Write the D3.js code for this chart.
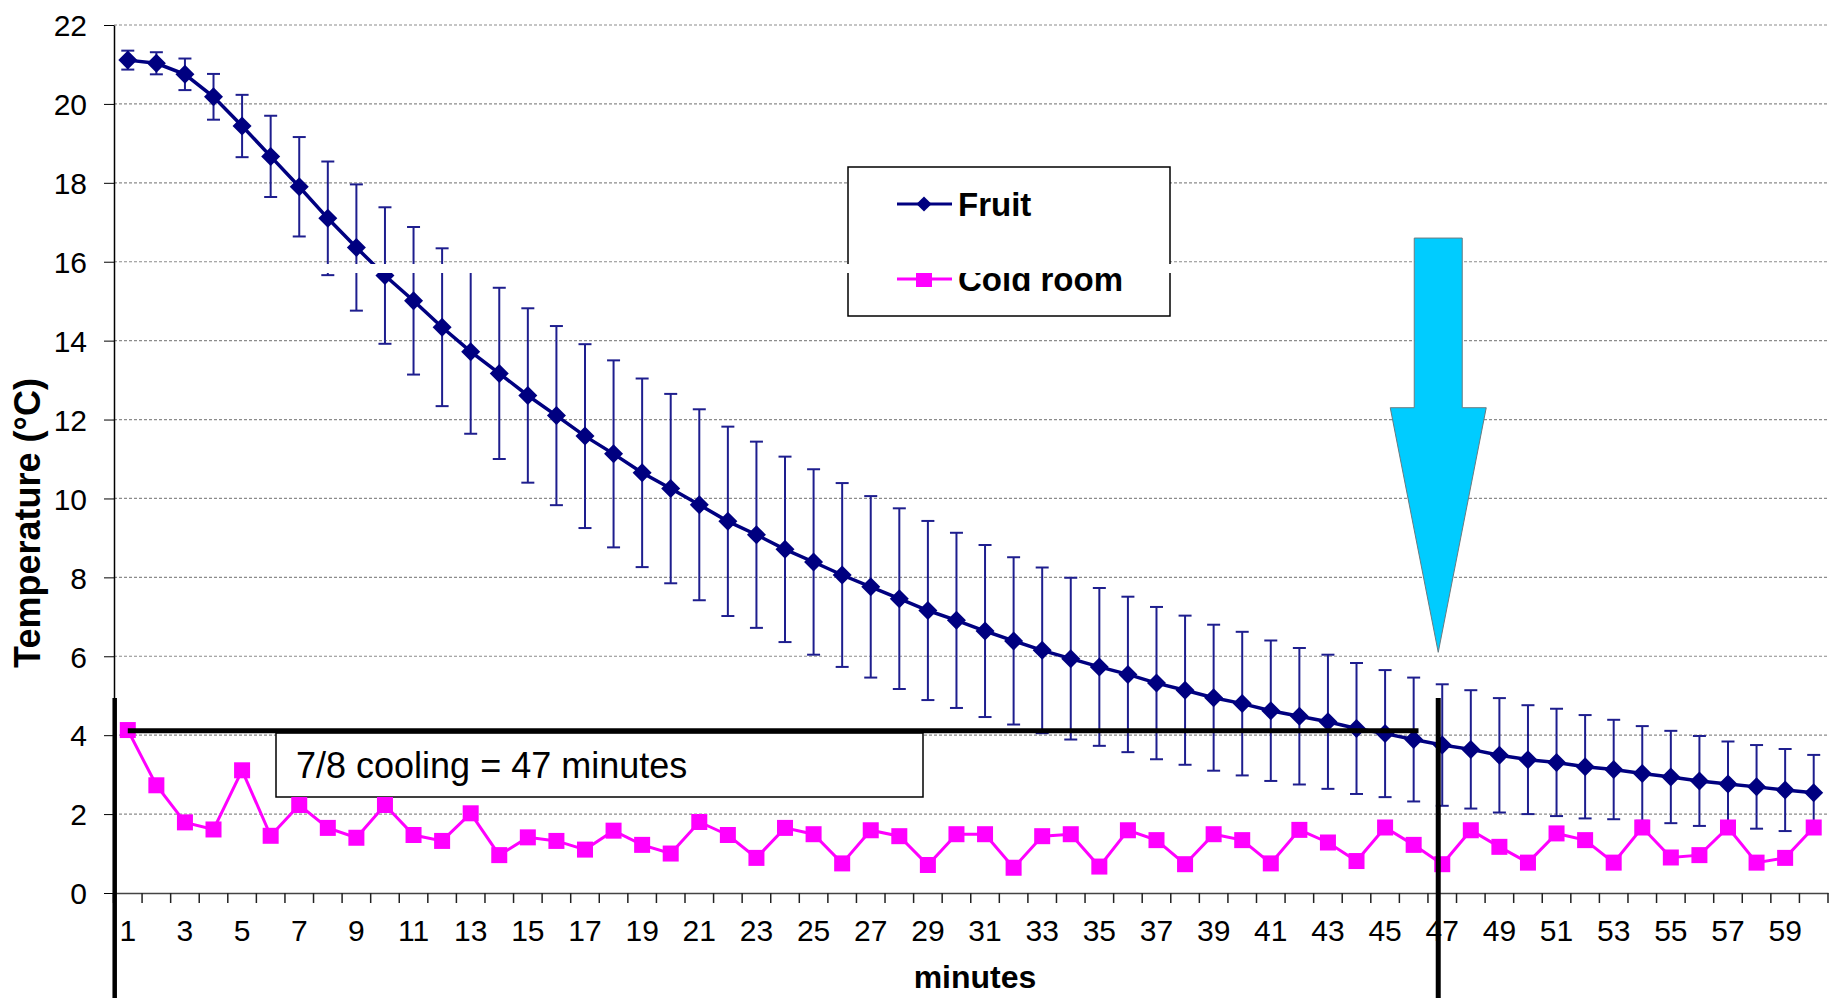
<!DOCTYPE html>
<html>
<head>
<meta charset="utf-8">
<script src="https://cdn.jsdelivr.net/npm/d3@7"></script>
<style>
body { margin: 0; background: #fff; }
text { font-family: "Liberation Sans", Arial, sans-serif; fill: #000; }
</style>
</head>
<body>
<script>
// minutes on the x axis
var minutes = [1,2,3,4,5,6,7,8,9,10,11,12,13,14,15,16,17,18,19,20,
  21,22,23,24,25,26,27,28,29,30,31,32,33,34,35,36,37,38,39,40,
  41,42,43,44,45,46,47,48,49,50,51,52,53,54,55,56,57,58,59,60];

// fruit core temperature (mean) and its error bar half-length
var fruitMean = [21.11,21.03,20.75,20.18,19.44,18.67,17.9,17.1,16.36,15.65,
  15.01,14.34,13.72,13.17,12.61,12.1,11.58,11.13,10.65,10.25,
  9.84,9.42,9.08,8.71,8.39,8.06,7.76,7.46,7.16,6.91,
  6.64,6.39,6.15,5.94,5.73,5.54,5.32,5.14,4.95,4.8,
  4.62,4.48,4.34,4.17,4.04,3.89,3.75,3.64,3.49,3.38,
  3.31,3.2,3.13,3.03,2.94,2.84,2.76,2.69,2.61,2.54];
var fruitErr = [0.24,0.28,0.4,0.58,0.79,1.03,1.26,1.44,1.6,1.73,
  1.87,2.0,2.08,2.17,2.21,2.27,2.33,2.37,2.39,2.4,
  2.42,2.4,2.36,2.35,2.35,2.33,2.3,2.29,2.27,2.22,
  2.18,2.12,2.1,2.05,2.0,1.97,1.93,1.89,1.85,1.82,
  1.78,1.73,1.7,1.66,1.61,1.57,1.54,1.5,1.45,1.38,
  1.36,1.31,1.26,1.2,1.17,1.14,1.08,1.06,1.04,0.96];

// cold room air temperature
var coldRoom = [4.13,2.73,1.79,1.61,3.11,1.45,2.23,1.65,1.4,2.23,
  1.47,1.32,2.02,0.96,1.41,1.32,1.1,1.58,1.22,1.0,
  1.8,1.47,0.89,1.65,1.49,0.75,1.59,1.44,0.71,1.49,
  1.49,0.64,1.44,1.49,0.67,1.59,1.34,0.73,1.49,1.34,
  0.75,1.6,1.28,0.81,1.66,1.22,0.73,1.59,1.17,0.77,
  1.51,1.34,0.77,1.66,0.9,0.96,1.66,0.77,0.89,1.66];

var yTicks = [0,2,4,6,8,10,12,14,16,18,20,22];

// 7/8 cooling marker
var coolMinute = 47;
var coolTemp = 4.11;
var noteText = "7/8 cooling = 47 minutes";

var W = 1843, H = 998;
var svg = d3.select("body").append("svg").attr("width", W).attr("height", H);

var x = d3.scaleBand().domain(minutes).range([113.5, 1828]);
var cx = function(d) { return x(d) + x.bandwidth() / 2; };
var y = d3.scaleLinear().domain([0, 22]).range([893, 25]);

// gridlines
svg.append("g").selectAll("line").data(yTicks.slice(1)).enter().append("line")
  .attr("x1", 114).attr("x2", 1828)
  .attr("y1", function(d) { return y(d); }).attr("y2", function(d) { return y(d); })
  .attr("stroke", "#8c8c8c").attr("stroke-width", 1.2).attr("stroke-dasharray", "3,2");

// y axis
var yAxis = svg.append("g").attr("transform", "translate(114,0)")
  .call(d3.axisLeft(y).tickValues(yTicks).tickSize(10).tickSizeOuter(0).tickPadding(17));
yAxis.selectAll("text").style("font-size", "30px").attr("dy", "0.36em");
yAxis.select(".domain").attr("stroke-width", 1.5);

// x axis: labels on odd minutes, ticks between categories
var xAxis = svg.append("g").attr("transform", "translate(0,893)")
  .call(d3.axisBottom(x).tickSize(0).tickSizeOuter(0).tickPadding(27)
    .tickFormat(function(d) { return d % 2 ? d : ""; }));
xAxis.selectAll("text").style("font-size", "30px");
xAxis.select(".domain").attr("stroke", "#444").attr("stroke-width", 1.5);
xAxis.selectAll(".bound").data(minutes.concat(["end"])).enter().append("line")
  .attr("class", "bound")
  .attr("x1", function(d) { return d === "end" ? x.range()[1] : x(d); })
  .attr("x2", function(d) { return d === "end" ? x.range()[1] : x(d); })
  .attr("y1", 0).attr("y2", 10).attr("stroke", "#222").attr("stroke-width", 1.5);

// axis titles
svg.append("text").attr("transform", "translate(40,523) rotate(-90)")
  .attr("text-anchor", "middle").style("font-size", "36px").style("font-weight", "bold")
  .text("Temperature (°C)");
svg.append("text").attr("x", 975).attr("y", 988)
  .attr("text-anchor", "middle").style("font-size", "32px").style("font-weight", "bold")
  .text("minutes");

// note box
svg.append("rect").attr("x", 276).attr("y", 733).attr("width", 647).attr("height", 64)
  .attr("fill", "#fff").attr("stroke", "#000").attr("stroke-width", 1.5);
svg.append("text").attr("x", 296).attr("y", 778).style("font-size", "36px").text(noteText);

// fruit error bars
var eb = svg.append("g").attr("stroke", "#1e1e8e").attr("stroke-width", 2);
eb.selectAll(".v").data(minutes).enter().append("line")
  .attr("x1", cx).attr("x2", cx)
  .attr("y1", function(d, i) { return y(fruitMean[i] + fruitErr[i]); })
  .attr("y2", function(d, i) { return y(fruitMean[i] - fruitErr[i]); });
[1, -1].forEach(function(s) {
  eb.selectAll(".c" + s).data(minutes).enter().append("line")
    .attr("x1", function(d) { return cx(d) - 6.5; }).attr("x2", function(d) { return cx(d) + 6.5; })
    .attr("y1", function(d, i) { return y(fruitMean[i] + s * fruitErr[i]); })
    .attr("y2", function(d, i) { return y(fruitMean[i] + s * fruitErr[i]); });
});

// cold room series
var line = d3.line().x(function(d) { return cx(d[0]); }).y(function(d) { return y(d[1]); });
var coldPts = minutes.map(function(m, i) { return [m, coldRoom[i]]; });
svg.append("path").datum(coldPts).attr("d", line)
  .attr("fill", "none").attr("stroke", "#ff00ff").attr("stroke-width", 3);
svg.append("g").selectAll("rect").data(coldPts).enter().append("rect")
  .attr("x", function(d) { return cx(d[0]) - 8; }).attr("y", function(d) { return y(d[1]) - 8; })
  .attr("width", 16).attr("height", 16).attr("fill", "#ff00ff");

// fruit series
var fruitPts = minutes.map(function(m, i) { return [m, fruitMean[i]]; });
svg.append("path").datum(fruitPts).attr("d", line)
  .attr("fill", "none").attr("stroke", "#000080").attr("stroke-width", 3.5);
var diamond = d3.symbol().type(d3.symbolDiamond2).size(230);
svg.append("g").selectAll("path").data(fruitPts).enter().append("path")
  .attr("d", diamond)
  .attr("transform", function(d) { return "translate(" + cx(d[0]) + "," + y(d[1]) + ")"; })
  .attr("fill", "#000080");

// legend
var lg = svg.append("g");
lg.append("rect").attr("x", 848).attr("y", 167).attr("width", 322).attr("height", 149)
  .attr("fill", "#fff").attr("stroke", "#000").attr("stroke-width", 1.5);
var legendItems = [
  { name: "Fruit", color: "#000080", y: 204, shape: "diamond" },
  { name: "Cold room", color: "#ff00ff", y: 279, shape: "square" }
];
legendItems.forEach(function(it) {
  lg.append("line").attr("x1", 897).attr("x2", 952).attr("y1", it.y).attr("y2", it.y)
    .attr("stroke", it.color).attr("stroke-width", 3);
  if (it.shape === "diamond") {
    lg.append("path").attr("d", diamond).attr("transform", "translate(924," + it.y + ") scale(0.8)").attr("fill", it.color);
  } else {
    lg.append("rect").attr("x", 916).attr("y", it.y - 8).attr("width", 16).attr("height", 16).attr("fill", it.color);
  }
  lg.append("text").attr("x", 958).attr("y", it.y + 12).style("font-size", "33px").style("font-weight", "bold")
    .text(it.name);
});

// white band artifact crossing the upper part of the chart
svg.append("rect").attr("x", 320).attr("y", 264).attr("width", 852).attr("height", 9).attr("fill", "#fff");

// 7/8 cooling reference lines
var mx = cx(coolMinute) - 4;
svg.append("line").attr("x1", cx(1)).attr("x2", 1418.5)
  .attr("y1", y(coolTemp)).attr("y2", y(coolTemp)).attr("stroke", "#000").attr("stroke-width", 5);
svg.append("line").attr("x1", 114.7).attr("x2", 114.7).attr("y1", 698).attr("y2", H)
  .attr("stroke", "#000").attr("stroke-width", 4.5);
svg.append("line").attr("x1", mx).attr("x2", mx).attr("y1", 698).attr("y2", H)
  .attr("stroke", "#000").attr("stroke-width", 5);

// arrow pointing down at minute 47
var shaftTop = y(16.6), headTop = y(12.3), tip = y(6.1);
var arrowPts = [[mx - 24, shaftTop], [mx + 24, shaftTop], [mx + 24, headTop], [mx + 48, headTop],
  [mx, tip], [mx - 48, headTop], [mx - 24, headTop]];
svg.append("polygon").attr("points", arrowPts.map(function(p) { return p.join(","); }).join(" "))
  .attr("fill", "#00ccff").attr("stroke", "#6a7a80").attr("stroke-width", 1);
</script>
</body>
</html>
